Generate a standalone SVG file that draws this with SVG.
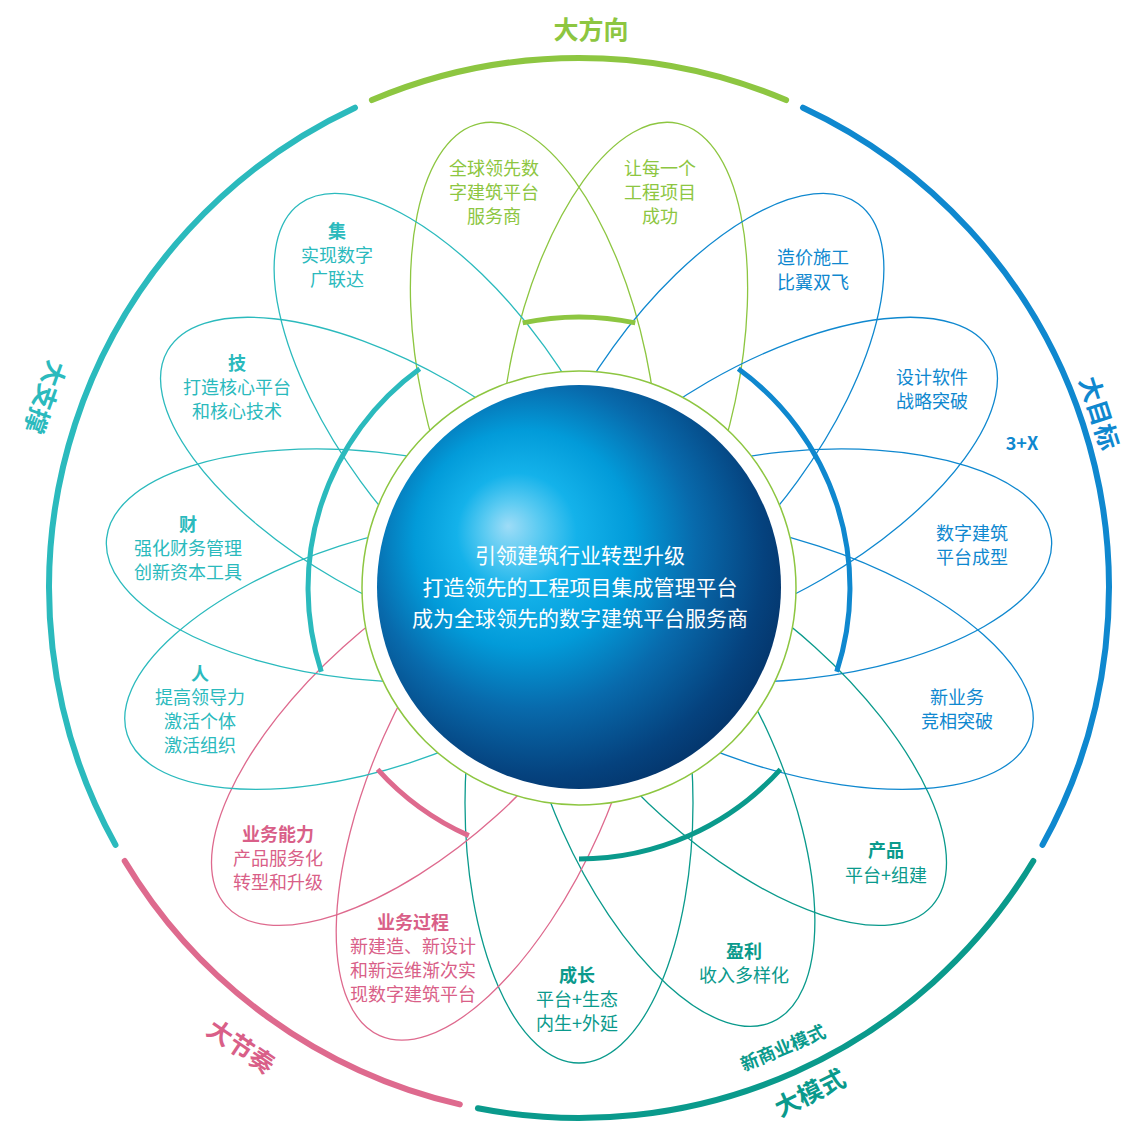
<svg xmlns="http://www.w3.org/2000/svg" width="1129" height="1122" viewBox="0 0 1129 1122">
<defs>
<radialGradient id="sph" gradientUnits="userSpaceOnUse" cx="548" cy="558" r="272" fx="508" fy="526">
<stop offset="0" stop-color="#9edcf7"/>
<stop offset="0.1" stop-color="#5ccbf2"/>
<stop offset="0.22" stop-color="#14b2ea"/>
<stop offset="0.4" stop-color="#029bd9"/>
<stop offset="0.6" stop-color="#086aac"/>
<stop offset="0.82" stop-color="#05427e"/>
<stop offset="1" stop-color="#032c5e"/>
</radialGradient>
<style>
.pe{fill:none;stroke-width:1.3}
.sg{stroke:#8dc641}.sb{stroke:#0f88cf}.st{stroke:#2bbabd}.sm{stroke:#0a9a8c}.sp{stroke:#de6a8e}
.fg{fill:#8dc641}.fb{fill:#0f88cf}.ft{fill:#2bbabd}.fm{fill:#0a9a8c}.fp{fill:#d95f88}
text{font-family:"Noto Sans CJK SC","Noto Sans",sans-serif;text-anchor:middle}
.tx{font-size:18px}
.hd{font-size:18px;font-weight:bold}
.lab{font-size:25px;font-weight:bold}
.outer{fill:none;stroke-width:6;stroke-linecap:round}
.inner{fill:none;stroke-width:5}
.ct{font-size:21px;fill:#ffffff}
</style>
</defs>
<rect width="1129" height="1122" fill="#ffffff"/>

<g id="petal-quanqiu">
<ellipse class="pe sg" cx="215" cy="0" rx="260" ry="114" transform="translate(579 588) rotate(-102)"/>
<text class="tx fg" x="494" y="174.5">全球领先数</text>
<text class="tx fg" x="494" y="198.5">字建筑平台</text>
<text class="tx fg" x="494" y="222.5">服务商</text>
</g>
<g id="petal-chenggong">
<ellipse class="pe sg" cx="215" cy="0" rx="260" ry="114" transform="translate(579 588) rotate(-78)"/>
<text class="tx fg" x="660" y="174.5">让每一个</text>
<text class="tx fg" x="660" y="198.5">工程项目</text>
<text class="tx fg" x="660" y="222.5">成功</text>
</g>
<g id="petal-zaojia">
<ellipse class="pe sb" cx="215" cy="0" rx="260" ry="114" transform="translate(579 588) rotate(-54)"/>
<text class="tx fb" x="813" y="264">造价施工</text>
<text class="tx fb" x="813" y="288.5">比翼双飞</text>
</g>
<g id="petal-sheji">
<ellipse class="pe sb" cx="215" cy="0" rx="260" ry="114" transform="translate(579 588) rotate(-30)"/>
<text class="tx fb" x="932" y="383.5">设计软件</text>
<text class="tx fb" x="932" y="407.5">战略突破</text>
</g>
<g id="label-3x">
<text class="hd fb" x="1022" y="449.5">3+X</text>
</g>
<g id="petal-shuzi">
<ellipse class="pe sb" cx="215" cy="0" rx="260" ry="114" transform="translate(579 588) rotate(-6)"/>
<text class="tx fb" x="972" y="539.5">数字建筑</text>
<text class="tx fb" x="972" y="563.5">平台成型</text>
</g>
<g id="petal-xinyewu">
<ellipse class="pe sb" cx="215" cy="0" rx="260" ry="114" transform="translate(579 588) rotate(18)"/>
<text class="tx fb" x="957" y="703.5">新业务</text>
<text class="tx fb" x="957" y="727.5">竞相突破</text>
</g>
<g id="petal-chanpin">
<ellipse class="pe sm" cx="215" cy="0" rx="260" ry="114" transform="translate(579 588) rotate(42)"/>
<text class="hd fm" x="886" y="857">产品</text>
<text class="tx fm" x="886" y="881.5">平台+组建</text>
</g>
<g id="petal-yingli">
<ellipse class="pe sm" cx="215" cy="0" rx="260" ry="114" transform="translate(579 588) rotate(66)"/>
<text class="hd fm" x="744" y="957.5">盈利</text>
<text class="tx fm" x="744" y="981.5">收入多样化</text>
</g>
<g id="petal-chengzhang">
<ellipse class="pe sm" cx="215" cy="0" rx="260" ry="114" transform="translate(579 588) rotate(90)"/>
<text class="hd fm" x="577" y="981.5">成长</text>
<text class="tx fm" x="577" y="1005.5">平台+生态</text>
<text class="tx fm" x="577" y="1029.5">内生+外延</text>
</g>
<g id="petal-guocheng">
<ellipse class="pe sp" cx="215" cy="0" rx="275" ry="118" transform="translate(579 588) rotate(114)"/>
<text class="hd fp" x="413" y="928.5">业务过程</text>
<text class="tx fp" x="413" y="952.5">新建造、新设计</text>
<text class="tx fp" x="413" y="976.5">和新运维渐次实</text>
<text class="tx fp" x="413" y="1000.5">现数字建筑平台</text>
</g>
<g id="petal-nengli">
<ellipse class="pe sp" cx="215" cy="0" rx="260" ry="114" transform="translate(579 588) rotate(138)"/>
<text class="hd fp" x="278" y="840.5">业务能力</text>
<text class="tx fp" x="278" y="864.5">产品服务化</text>
<text class="tx fp" x="278" y="888.5">转型和升级</text>
</g>
<g id="petal-ren">
<ellipse class="pe st" cx="215" cy="0" rx="260" ry="114" transform="translate(579 588) rotate(162)"/>
<text class="hd ft" x="200" y="679.5">人</text>
<text class="tx ft" x="200" y="703.5">提高领导力</text>
<text class="tx ft" x="200" y="727.5">激活个体</text>
<text class="tx ft" x="200" y="751.5">激活组织</text>
</g>
<g id="petal-cai">
<ellipse class="pe st" cx="215" cy="0" rx="260" ry="114" transform="translate(579 588) rotate(186)"/>
<text class="hd ft" x="188" y="530.5">财</text>
<text class="tx ft" x="188" y="554.5">强化财务管理</text>
<text class="tx ft" x="188" y="578.5">创新资本工具</text>
</g>
<g id="petal-ji">
<ellipse class="pe st" cx="215" cy="0" rx="260" ry="114" transform="translate(579 588) rotate(210)"/>
<text class="hd ft" x="237" y="369.5">技</text>
<text class="tx ft" x="237" y="393.5">打造核心平台</text>
<text class="tx ft" x="237" y="417.5">和核心技术</text>
</g>
<g id="petal-jiqun">
<ellipse class="pe st" cx="215" cy="0" rx="260" ry="114" transform="translate(579 588) rotate(234)"/>
<text class="hd ft" x="337" y="237.5">集</text>
<text class="tx ft" x="337" y="261.5">实现数字</text>
<text class="tx ft" x="337" y="285.5">广联达</text>
</g>

<g id="connectors">
<path class="outer sg" d="M371.9 100.1 A530 530 0 0 1 786.1 100.1"/>
<path class="outer sb" d="M803.0 107.7 A530 530 0 0 1 1042.5 844.9"/>
<path class="outer sm" d="M1033.3 861.0 A530 530 0 0 1 477.9 1108.3"/>
<path class="outer sp" d="M459.8 1104.4 A530 530 0 0 1 124.7 861.0"/>
<path class="outer st" d="M115.5 844.9 A530 530 0 0 1 355.0 107.7"/>
<path class="inner sg" d="M522.7 322.9 A271 271 0 0 1 635.3 322.9"/>
<path class="inner sb" d="M738.3 368.8 A271 271 0 0 1 836.7 671.7"/>
<path class="inner sm" d="M780.4 769.3 A271 271 0 0 1 579 859"/>
<path class="inner sp" d="M468.8 835.6 A271 271 0 0 1 377.6 769.3"/>
<path class="inner st" d="M321.3 671.7 A271 271 0 0 1 419.7 368.8"/>
</g>

<g id="label-dafangxiang"><text class="lab fg" x="591" y="39">大方向</text></g>
<g id="label-dazhicheng"><text class="lab ft" transform="translate(45 397) rotate(109.7)" y="9">大支撑</text></g>
<g id="label-damubiao"><text class="lab fb" transform="translate(1099 413) rotate(72.4)" y="9">大目标</text></g>
<g id="label-dajiezou"><text class="lab fp" transform="translate(240.8 1046.8) rotate(34)" y="9">大节奏</text></g>
<g id="label-damoshi"><text class="lab fm" transform="translate(810 1093) rotate(-26)" y="9">大模式</text></g>
<g id="label-xinshangye"><text class="hd fm" transform="translate(783 1048) rotate(-23)" y="6.5">新商业模式</text></g>

<g id="center">
<circle cx="579" cy="588" r="217" fill="#ffffff" stroke="#8dc641" stroke-width="1.5"/>
<circle cx="579" cy="587" r="202" fill="url(#sph)"/>
<text class="ct" x="580" y="562.6">引领建筑行业转型升级</text>
<text class="ct" x="580" y="594.6">打造领先的工程项目集成管理平台</text>
<text class="ct" x="580" y="625.6">成为全球领先的数字建筑平台服务商</text>
</g>
</svg>
